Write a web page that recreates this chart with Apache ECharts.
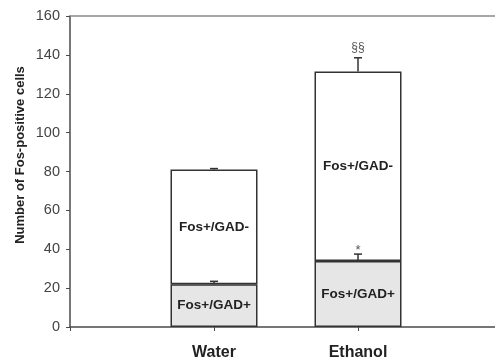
<!DOCTYPE html>
<html>
<head>
<meta charset="utf-8">
<script src="https://cdn.jsdelivr.net/npm/echarts@6/dist/echarts.min.js"></script>
<style>
  html, body { margin: 0; padding: 0; background: #fff; }
  #chart { width: 495px; height: 362px; }
</style>
</head>
<body>
<div id="chart"></div>
<script>
// Fos-positive cell counts per group (padding categories keep the bars centred)
const categories = ['', 'Water', 'Ethanol', ''];
const gadPos = [null, 22, 34, null];        // Fos+/GAD+ cells
const gadNeg = [null, 59, 97.5, null];      // Fos+/GAD- cells (stacked on top)
const errGadPos = [null, 1.5, 3.5, null];   // SEM of the Fos+/GAD+ count
const errTotal = [null, 0.5, 7, null];      // SEM of the total count
const sigGadPos = ['', '', '*', ''];        // significance marks
const sigTotal = ['', '', '§§', ''];
const yTicks = [0, 20, 40, 60, 80, 100, 120, 140, 160];
const yTitle = 'Number of Fos-positive cells';

const FONT = 'Liberation Sans, Arial, sans-serif';
const AXIS = '#4a4a4a';

// error-bar rows: [category index, bar top, error, mark]
const errRows = [];
categories.forEach((c, i) => {
  if (gadPos[i] == null) return;
  errRows.push([i, gadPos[i], errGadPos[i], sigGadPos[i]]);
  errRows.push([i, gadPos[i] + gadNeg[i], errTotal[i], sigTotal[i]]);
});

function renderErr(params, api) {
  const idx = api.value(0), top = api.value(1), err = api.value(2);
  const mark = errRows[params.dataIndex][3];
  const p0 = api.coord([idx, top]);
  const p1 = api.coord([idx, top + err]);
  const half = 4;
  const style = { stroke: '#333', lineWidth: 1.5 };
  const children = [
    { type: 'line', shape: { x1: p0[0], y1: p0[1], x2: p1[0], y2: p1[1] }, style },
    { type: 'line', shape: { x1: p1[0] - half, y1: p1[1], x2: p1[0] + half, y2: p1[1] }, style }
  ];
  if (mark) {
    const star = mark === '*';
    children.push({
      type: 'text',
      style: {
        text: mark, x: p1[0], y: star ? p1[1] + 3 : p1[1] - 4,
        align: 'center', verticalAlign: 'bottom',
        font: (star ? '13px ' : '12px ') + FONT, fill: '#555'
      }
    });
  }
  return { type: 'group', children };
}

const chart = echarts.init(document.getElementById('chart'), null, { renderer: 'canvas' });
chart.setOption({
  animation: false,
  backgroundColor: '#fff',
  grid: {
    left: 70, top: 16, width: 432, bottom: 35,
    containLabel: false, outerBoundsMode: 'none'
  },
  graphic: [{
    type: 'text',
    x: 20, y: 155,
    rotation: Math.PI / 2,
    style: {
      text: yTitle, align: 'center', verticalAlign: 'middle',
      font: 'bold 13px ' + FONT, fill: '#222'
    }
  }],
  xAxis: [
    {
      type: 'category',
      data: categories,
      boundaryGap: false,
      axisLine: { lineStyle: { color: AXIS, width: 1.5 } },
      axisTick: { show: true, length: 4, inside: false, lineStyle: { color: AXIS } },
      axisLabel: { margin: 18, fontFamily: FONT, fontSize: 16, fontWeight: 'bold', color: '#222' },
      splitLine: { show: false }
    },
    {
      type: 'category',
      data: categories,
      position: 'top',
      boundaryGap: false,
      axisLine: { lineStyle: { color: '#8a8a8a', width: 1.5 } },
      axisTick: { show: false },
      axisLabel: { show: false }
    }
  ],
  yAxis: {
    type: 'value',
    min: 0, max: 160, interval: 20,
    axisLine: { show: true, lineStyle: { color: AXIS, width: 1.5 } },
    axisTick: { show: true, length: 4, lineStyle: { color: AXIS } },
    axisLabel: {
      margin: 10, fontFamily: FONT, fontSize: 14.5, color: '#444',
      formatter: v => yTicks.includes(v) ? String(v) : ''
    },
    splitLine: { show: false }
  },
  series: [
    {
      name: 'Fos+/GAD+',
      type: 'bar',
      stack: 'fos',
      barWidth: 87,
      data: gadPos,
      itemStyle: { color: '#e6e6e6', borderColor: '#333', borderWidth: 1.5 },
      label: {
        show: true, position: 'inside', formatter: 'Fos+/GAD+',
        fontFamily: FONT, fontSize: 13.5, fontWeight: 'bold', color: '#222'
      }
    },
    {
      name: 'Fos+/GAD-',
      type: 'bar',
      stack: 'fos',
      barWidth: 87,
      data: gadNeg,
      itemStyle: { color: '#ffffff', borderColor: '#333', borderWidth: 1.5 },
      label: {
        show: true, position: 'inside', formatter: 'Fos+/GAD-',
        fontFamily: FONT, fontSize: 13.5, fontWeight: 'bold', color: '#222'
      }
    },
    {
      type: 'custom',
      renderItem: renderErr,
      data: errRows.map(r => [r[0], r[1], r[2]]),
      z: 10
    }
  ]
});
</script>
</body>
</html>
